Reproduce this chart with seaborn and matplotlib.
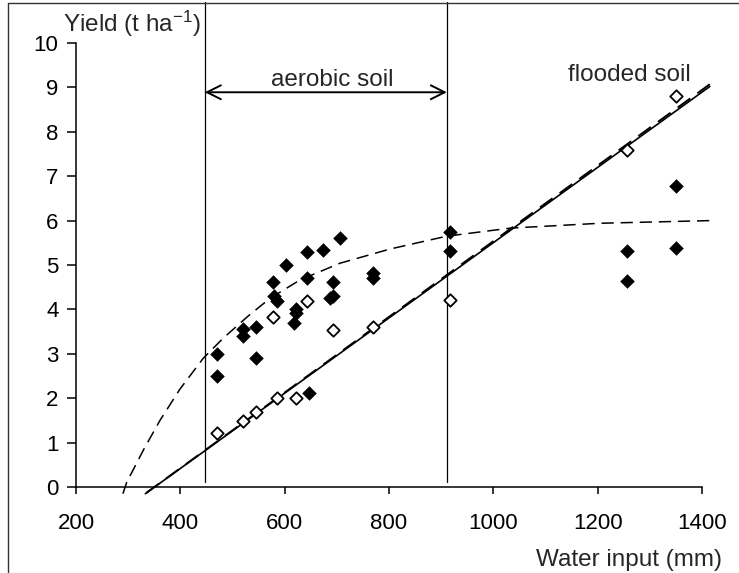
import matplotlib
matplotlib.use("Agg")
import matplotlib.pyplot as plt
from matplotlib.lines import Line2D
import seaborn as sns

# filled diamonds (water input mm, yield t/ha)
water_filled = [470, 470, 520, 520, 545, 545, 578, 580, 585, 603, 622, 622, 618,
                642, 673, 706, 642, 693, 687, 693, 769, 769, 647, 917, 917,
                1256, 1256, 1350, 1350]
yield_filled = [3.0, 2.5, 3.55, 3.4, 3.6, 2.9, 4.62, 4.3, 4.2, 5.0, 4.0, 3.93, 3.7,
                5.3, 5.34, 5.6, 4.71, 4.62, 4.25, 4.3, 4.81, 4.71, 2.12, 5.74, 5.31,
                5.31, 4.63, 5.39, 6.79]

# open diamonds
water_open = [470, 520, 545, 586, 622, 578, 642, 693, 769, 917, 1256, 1350]
yield_open = [1.21, 1.49, 1.7, 2.0, 2.0, 3.82, 4.2, 3.54, 3.61, 4.21, 7.6, 8.81]

# fitted lines
solid_x = [333, 1415]
solid_y = [-0.15, 9.02]
dash_x = [335, 1415]
dash_y = [-0.13, 9.07]
curve_x = [290, 297, 330, 361, 399, 444, 482, 530, 572, 629, 706, 802, 911, 1032, 1204, 1415]
curve_y = [-0.15, 0.1, 0.85, 1.5, 2.2, 2.9, 3.35, 3.85, 4.25, 4.66, 5.04, 5.36, 5.65, 5.83, 5.94, 6.0]

# aerobic soil range
bounds = [447, 911]

x_ticks = [200, 400, 600, 800, 1000, 1200, 1400]
y_ticks = list(range(0, 11))

sns.set_style("white")
plt.rcParams["font.family"] = ["Liberation Sans", "DejaVu Sans"]
plt.rcParams["mathtext.default"] = "regular"

fig = plt.figure(figsize=(7.39, 5.73), dpi=100)
ax = fig.add_axes([0.1028, 0.150, 0.8471, 0.775])

# lines
sns.lineplot(x=curve_x, y=curve_y, sort=False, color="black", lw=1.1,
             linestyle=(0, (8, 4.5)), clip_on=False, ax=ax)
sns.lineplot(x=solid_x, y=solid_y, color="black", lw=1.2, clip_on=False, ax=ax)
sns.lineplot(x=dash_x, y=dash_y, color="black", lw=1.4,
             linestyle=(0, (8, 4.5)), clip_on=False, ax=ax)

for b in bounds:
    ax.plot([b, b], [0.12, 10.92], color="black", lw=0.9, clip_on=False)

# points
sns.scatterplot(x=water_filled, y=yield_filled, marker="D", s=55, color="black",
                linewidth=0, zorder=4, ax=ax)
sns.scatterplot(x=water_open, y=yield_open, marker="D", s=40, color="white",
                edgecolor="black", linewidth=1.3, zorder=4, ax=ax)

# arrow + annotations
ax.annotate("", xy=(bounds[0], 8.89), xytext=(bounds[1], 8.89),
            arrowprops=dict(arrowstyle="<->,head_length=0.5,head_width=0.25",
                            lw=1.4, color="black", shrinkA=0, shrinkB=0,
                            mutation_scale=20))
ax.text(691, 9.02, "aerobic soil", ha="center", va="baseline", fontsize=17.5)
ax.text(1261, 9.14, "flooded soil", ha="center", va="baseline", fontsize=17.5)
ax.text(175, 10.24, "Yield (t ha$^{-1}$)", ha="left", va="baseline", fontsize=17.5)
ax.text(1438, -1.77, "Water input (mm)", ha="right", va="baseline", fontsize=17.5)

ax.set_xlim(200, 1400)
ax.set_ylim(0, 10)
ax.set_xticks(x_ticks)
ax.set_yticks(y_ticks)
ax.set_xlabel("")
ax.set_ylabel("")
ax.tick_params(axis="x", bottom=True, direction="out", length=5, width=1.1,
               pad=14, labelsize=16, colors="black")
ax.tick_params(axis="y", left=True, direction="out", length=6.5, width=1.1,
               pad=6, labelsize=16, colors="black")
sns.despine(ax=ax)
for s in ["left", "bottom"]:
    ax.spines[s].set_color("black")
    ax.spines[s].set_linewidth(1.1)

# outer frame (left and top edges)
fig.add_artist(Line2D([8 / 739, 8 / 739], [0, 1 - 3 / 573], transform=fig.transFigure,
                      color="#333333", lw=1.0))
fig.add_artist(Line2D([8 / 739, 1], [1 - 3 / 573, 1 - 3 / 573], transform=fig.transFigure,
                      color="#333333", lw=1.0))

fig.savefig("out.png", dpi=100)
